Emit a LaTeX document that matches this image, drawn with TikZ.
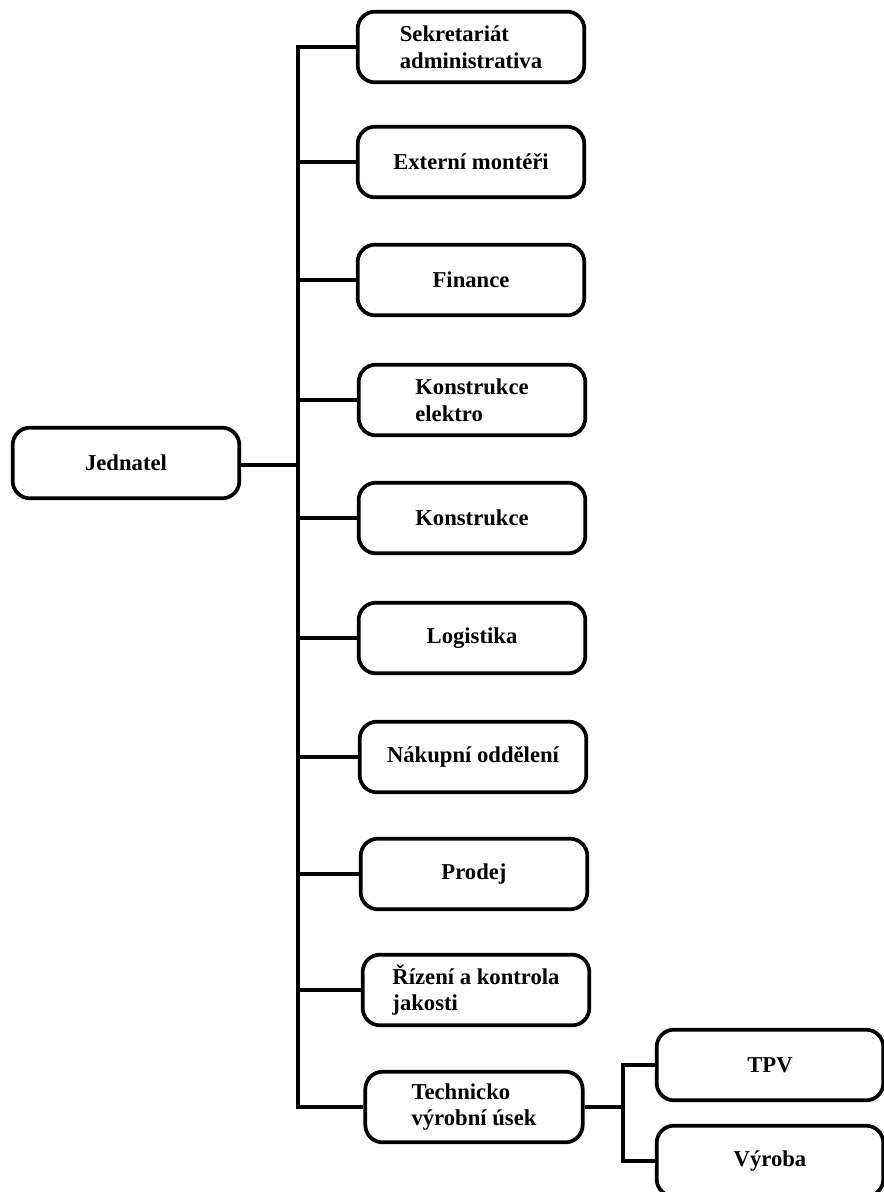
\documentclass[tikz,border=0pt]{standalone}
\usepackage{fontspec}
\setmainfont{Liberation Serif}
\usetikzlibrary{positioning}

\begin{document}
\begin{tikzpicture}[
  x=0.75pt, y=-0.75pt,
  font=\fontsize{17}{20}\selectfont\bfseries,
  unit/.style={
    draw, line width=2.8pt, rounded corners=13pt, fill=white,
    minimum width=170pt, minimum height=53pt, align=left, inner sep=0pt
  },
  link/.style={line width=2.8pt}
]
  \useasboundingbox[fill=white] (0,0) rectangle (884,1192);

  \node[unit] (jednatel) at (126,463) {Jednatel};
  \coordinate (trunk) at (298,465);

  \node[unit] (sekret)  at (471,47)   {Sekretariát\\administrativa};
  \node[unit] (externi) at (471,162)  {Externí montéři};
  \node[unit] (finance) at (471,280)  {Finance};
  \node[unit] (konelek) at (472,400)  {Konstrukce\\elektro};
  \node[unit] (konstr)  at (472,518)  {Konstrukce};
  \node[unit] (logist)  at (472,638)  {Logistika};
  \node[unit] (nakup)   at (473,757)  {Nákupní oddělení};
  \node[unit] (prodej)  at (474,874)  {Prodej};
  \node[unit] (rizeni)  at (476,990)  {Řízení a kontrola\\jakosti};
  \node[unit, minimum width=163pt] (tvu) at (474,1107) {Technicko\\výrobní úsek};

  \coordinate (fork) at (623,1107);
  \node[unit] (tpv)    at (770,1065) {TPV};
  \node[unit] (vyroba) at (770,1161) {Výroba};

  \draw[link] (jednatel.east |- trunk) -- (trunk);
  \draw[link] (sekret.west) -- (sekret.west -| trunk)
    -- (tvu.west -| trunk) -- (tvu.west);
  \draw[link] (externi.west) -- (externi.west -| trunk);
  \draw[link] (finance.west) -- (finance.west -| trunk);
  \draw[link] (konelek.west) -- (konelek.west -| trunk);
  \draw[link] (konstr.west) -- (konstr.west -| trunk);
  \draw[link] (logist.west) -- (logist.west -| trunk);
  \draw[link] (nakup.west) -- (nakup.west -| trunk);
  \draw[link] (prodej.west) -- (prodej.west -| trunk);
  \draw[link] (rizeni.west) -- (rizeni.west -| trunk);

  \draw[link] (tvu.east) -- (fork);
  \draw[link] (tpv.west) -- (tpv.west -| fork)
    -- (vyroba.west -| fork) -- (vyroba.west);
\end{tikzpicture}
\end{document}
